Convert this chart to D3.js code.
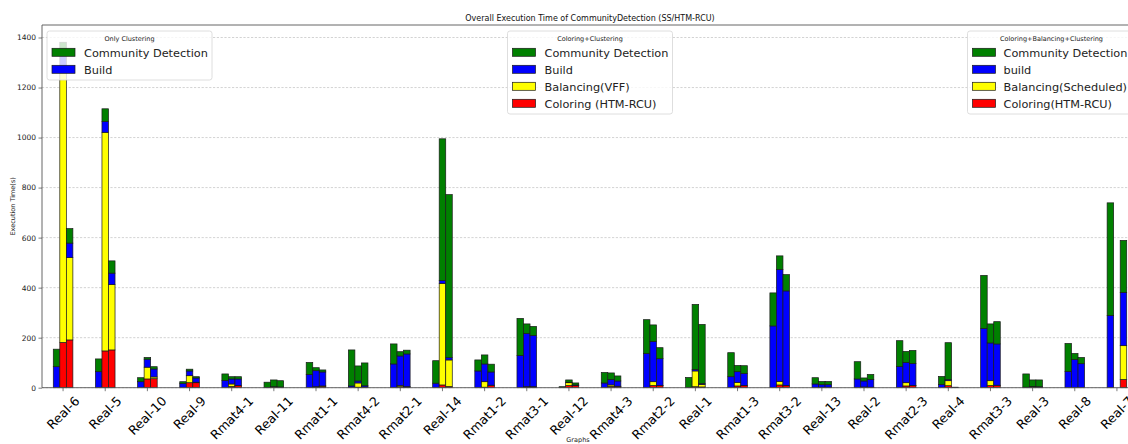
<!DOCTYPE html>
<html>
<head>
<meta charset="utf-8">
<script src="https://cdn.jsdelivr.net/npm/d3@7"></script>
<style>
  html, body { margin: 0; padding: 0; background: #fff; }
  svg { display: block; font-family: "DejaVu Sans", sans-serif; }
</style>
</head>
<body>
<svg id="chart" width="1128" height="444"></svg>
<script>
// Graph instances, in plotting order
const categories = ["Real-6","Real-5","Real-10","Real-9","Rmat4-1","Real-11","Rmat1-1","Rmat4-2","Rmat2-1","Real-14","Rmat1-2","Rmat3-1","Real-12","Rmat4-3","Rmat2-2","Real-1","Rmat1-3","Rmat3-2","Real-13","Real-2","Rmat2-3","Real-4","Rmat3-3","Real-3","Real-8","Real-7"];

// Only Clustering (seconds)
const onlyBuild = [84,64,24,17,29,1,53,7,95,18,67,129,1,19,137,1,44,247,15,35,85,13,237,2,65,289];
const onlyCD    = [70,51,16,7,26,21,48,144,80,90,44,148,3,42,135,40,96,132,25,69,103,32,212,53,112,450];

// Coloring + Clustering (seconds); Real-7 has no run
const ccColoring  = [181,147,35,20,5,1,2,2,4,11,2,3,9,5,9,4,7,11,1,2,7,8,9,2,0,null];
const ccBalancing = [1086,874,47,28,10,2,2,17,5,406,22,1,11,6,15,63,14,14,1,1,13,20,19,2,0,null];
const ccBuild     = [84,43,32,19,20,1,64,8,118,11,71,213,2,22,161,6,43,448,10,24,81,5,151,1,113,null];
const ccCD        = [30,51,7,7,9,27,12,60,17,567,36,38,9,26,66,260,25,54,13,12,44,147,76,26,24,null];

// Coloring + Balancing + Clustering (seconds)
const cbcColoring  = [191,151,36,20,8,1,6,2,3,5,9,3,8,5,8,3,8,8,1,1,8,1,9,1,0,33];
const cbcBalancing = [329,261,7,2,1,1,1,1,1,106,1,1,1,1,1,10,1,1,1,1,1,0,1,1,0,135];
const cbcBuild     = [58,46,32,17,26,1,56,5,131,9,53,205,2,21,107,4,48,378,10,31,88,1,165,2,96,213];
const cbcCD        = [58,49,9,5,9,25,8,91,15,652,31,36,8,20,44,236,31,65,13,20,52,0,89,27,25,208];

const COLORS = { coloring: "#ff0000", balancing: "#ffff00", build: "#0000ff", cd: "#008000" };

const svg = d3.select("#chart");
const plot = { left: 42, right: 1138, top: 25, bottom: 387.7 };

const x = d3.scaleBand().domain(categories).range([plot.left, plot.right]).padding(0);
const y = d3.scaleLinear().domain([0, 1450]).range([plot.bottom, plot.top]);
const barW = x.bandwidth() * 0.155;

// horizontal grid
const yTicks = d3.range(0, 1401, 200);
svg.append("g").selectAll("line").data(yTicks).join("line")
  .attr("x1", plot.left).attr("x2", plot.right)
  .attr("y1", d => y(d)).attr("y2", d => y(d))
  .attr("stroke", "#c8c8c8").attr("stroke-width", 0.8)
  .attr("stroke-dasharray", "2.2,1.6");

// build row tables for stacking
function rows(cols) {
  return categories.map((c, i) => {
    const r = { cat: c, missing: false };
    for (const [k, arr] of Object.entries(cols)) {
      if (arr[i] === null) r.missing = true;
      r[k] = arr[i] || 0;
    }
    return r;
  });
}

const groups = [
  { offset: -1, keys: ["build", "cd"], data: rows({ build: onlyBuild, cd: onlyCD }) },
  { offset: 0, keys: ["coloring", "balancing", "build", "cd"],
    data: rows({ coloring: ccColoring, balancing: ccBalancing, build: ccBuild, cd: ccCD }) },
  { offset: 1, keys: ["coloring", "balancing", "build", "cd"],
    data: rows({ coloring: cbcColoring, balancing: cbcBalancing, build: cbcBuild, cd: cbcCD }) }
];

const barsG = svg.append("g");
groups.forEach(g => {
  const series = d3.stack().keys(g.keys)(g.data);
  series.forEach(s => {
    barsG.append("g").selectAll("rect")
      .data(s.filter(d => !d.data.missing))
      .join("rect")
      .attr("x", d => x(d.data.cat) + x.bandwidth() / 2 + g.offset * barW - barW / 2)
      .attr("width", barW)
      .attr("y", d => y(d[1]))
      .attr("height", d => y(d[0]) - y(d[1]))
      .attr("fill", COLORS[s.key])
      .attr("stroke", "#1a1a1a")
      .attr("stroke-width", 0.7);
  });
});

// spines
svg.append("path")
  .attr("d", `M${plot.left},${plot.bottom}V${plot.top}H${plot.right}V${plot.bottom}Z`)
  .attr("fill", "none").attr("stroke", "#555").attr("stroke-width", 0.9);

// y axis
const yAxis = svg.append("g").attr("transform", `translate(${plot.left},0)`)
  .call(d3.axisLeft(y).tickValues(yTicks).tickSize(3.5).tickPadding(2.5).tickFormat(d3.format("d")));
yAxis.select(".domain").remove();
yAxis.selectAll("line").attr("stroke", "#444").attr("stroke-width", 0.7);
yAxis.selectAll("text").attr("font-size", 7.5).attr("fill", "#222").attr("font-family", "DejaVu Sans");

// x ticks and rotated labels (box centred under each tick)
const xg = svg.append("g");
const labelSize = 12.6;
categories.forEach(c => {
  const cx = x(c) + x.bandwidth() / 2;
  xg.append("line").attr("x1", cx).attr("x2", cx)
    .attr("y1", plot.bottom).attr("y2", plot.bottom + 3.5)
    .attr("stroke", "#444").attr("stroke-width", 0.7);
  const t = xg.append("text").text(c)
    .attr("font-size", labelSize).attr("fill", "#000")
    .attr("text-anchor", "middle").attr("dominant-baseline", "central");
  const w = t.node().getComputedTextLength();
  const h = labelSize * 0.8;
  const half = (w + h) / (2 * Math.SQRT2);
  t.attr("transform", `translate(${cx},${plot.bottom + 7.5 + half}) rotate(-45)`);
});

// titles
svg.append("text").attr("x", (plot.left + plot.right) / 2).attr("y", 21)
  .attr("text-anchor", "middle").attr("font-size", 8).attr("fill", "#111")
  .text("Overall Execution Time of CommunityDetection (SS/HTM-RCU)");
svg.append("text").attr("x", 578).attr("y", 442)
  .attr("text-anchor", "middle").attr("font-size", 6.5).attr("fill", "#222")
  .text("Graphs");
svg.append("text")
  .attr("transform", `translate(15,${(plot.top + plot.bottom) / 2}) rotate(-90)`)
  .attr("text-anchor", "middle").attr("font-size", 6.5).attr("fill", "#222")
  .text("Execution Time(s)");

// legends
function legend(x0, y0, w, h, title, items, textX) {
  const g = svg.append("g");
  g.append("rect").attr("x", x0).attr("y", y0).attr("width", w).attr("height", h)
    .attr("rx", 2.5).attr("fill", "#fff").attr("fill-opacity", 0.8)
    .attr("stroke", "#d6d6d6").attr("stroke-width", 0.8);
  g.append("text").attr("x", x0 + w / 2).attr("y", y0 + 9.5)
    .attr("text-anchor", "middle").attr("font-size", 6.5).attr("fill", "#222").text(title);
  items.forEach((it, i) => {
    const ry = y0 + 21.3 + i * 17;
    g.append("rect").attr("x", x0 + 5).attr("y", ry - 4).attr("width", 23).attr("height", 8)
      .attr("fill", it[1]).attr("stroke", "#1a1a1a").attr("stroke-width", 0.7);
    g.append("text").attr("x", x0 + textX).attr("y", ry + 4.2)
      .attr("font-size", 11.3).attr("fill", "#222").text(it[0]);
  });
}
legend(47, 31, 165, 49, "Only Clustering",
  [["Community Detection", COLORS.cd], ["Build", COLORS.build]], 37);
legend(507.5, 31, 165, 83, "Coloring+Clustering",
  [["Community Detection", COLORS.cd], ["Build", COLORS.build],
   ["Balancing(VFF)", COLORS.balancing], ["Coloring (HTM-RCU)", COLORS.coloring]], 37);
legend(967.5, 31, 168, 83, "Coloring+Balancing+Clustering",
  [["Community Detection", COLORS.cd], ["build", COLORS.build],
   ["Balancing(Scheduled)", COLORS.balancing], ["Coloring(HTM-RCU)", COLORS.coloring]], 36);
</script>
</body>
</html>
